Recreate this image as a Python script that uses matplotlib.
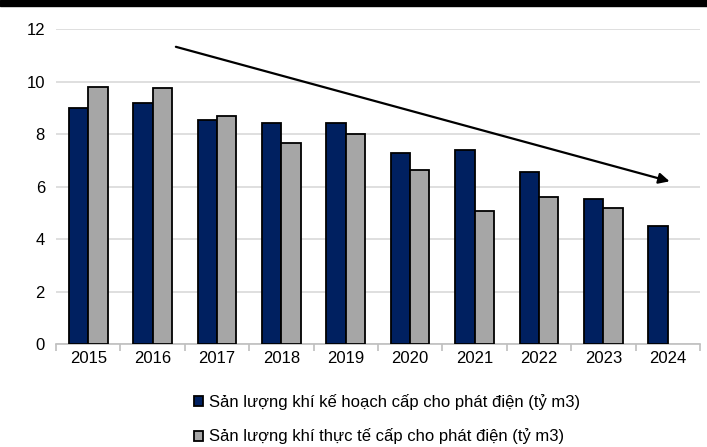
import numpy as np
import matplotlib.pyplot as plt
from matplotlib.patches import Rectangle

plt.rcParams['font.family'] = ['Liberation Sans', 'DejaVu Sans']

# 数据
years = ['2015', '2016', '2017', '2018', '2019', '2020', '2021', '2022', '2023', '2024']
ke_hoach = [8.98, 9.17, 8.52, 8.42, 8.42, 7.26, 7.38, 6.56, 5.54, 4.51]
thuc_te = [9.80, 9.76, 8.70, 7.66, 8.00, 6.64, 5.08, 5.61, 5.19, np.nan]
label_kh = 'Sản lượng khí kế hoạch cấp cho phát điện (tỷ m3)'
label_tt = 'Sản lượng khí thực tế cấp cho phát điện (tỷ m3)'

fig = plt.figure(figsize=(7.07, 4.47), dpi=100)
ax = fig.add_axes([0.0792, 0.2304, 0.9108, 0.7047])

# 顶部黑色横条
fig.patches.append(Rectangle((0, 0.986), 1, 0.014, transform=fig.transFigure, color='black'))

x = np.arange(len(years))
w = 0.3
ax.bar(x - w / 2, ke_hoach, width=w, color='#002060', edgecolor='black', linewidth=1.3,
       label=label_kh, zorder=3)
ax.bar(x + w / 2, thuc_te, width=w, color='#a6a6a6', edgecolor='black', linewidth=1.3,
       label=label_tt, zorder=3)

# 趋势箭头
ax.annotate('', xy=(9.07, 6.17), xytext=(1.32, 11.35),
            arrowprops=dict(arrowstyle='-|>', color='black', lw=1.6, mutation_scale=16))

ax.set_xlim(-0.5, len(years) - 0.5)
ax.set_ylim(0, 12)
ax.set_yticks(np.arange(0, 13, 2))
ax.yaxis.grid(True, color='#d9d9d9', linewidth=1.2, zorder=0)
ax.set_axisbelow(True)
for s in ['top', 'right', 'left']:
    ax.spines[s].set_visible(False)
ax.spines['bottom'].set_color('#bfbfbf')
ax.spines['bottom'].set_linewidth(1.2)

ax.set_xticks(x)
ax.set_xticklabels(years, fontsize=12)
ax.set_xticks(np.arange(-0.5, len(years), 1), minor=True)
ax.tick_params(axis='x', which='major', length=0, pad=5)
ax.tick_params(axis='x', which='minor', length=5, color='#bfbfbf', width=1.2)
ax.tick_params(axis='y', length=0, labelsize=12, pad=8)

fig.legend(loc='upper left', bbox_to_anchor=(0.263, 0.137), frameon=False, fontsize=12,
           handlelength=0.55, handleheight=0.55, handletextpad=0.35, labelspacing=1.1,
           borderpad=0)

fig.savefig('out.png', dpi=100, facecolor='white')
